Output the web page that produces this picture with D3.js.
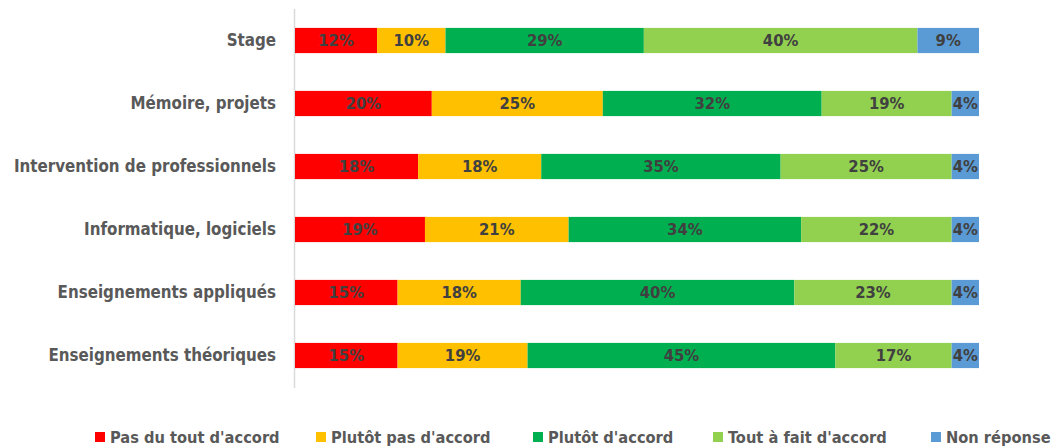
<!DOCTYPE html>
<html>
<head>
<meta charset="UTF-8">
<title>Stacked bars</title>
<script src="https://cdn.jsdelivr.net/npm/d3@7"></script>
<style>
  body { margin: 0; background: #fff; }
  text { font-family: "Liberation Sans Narrow", "DejaVu Sans Condensed", sans-serif; font-weight: bold; }
</style>
</head>
<body>
<script>
// categories (top to bottom)
var categories = ["Stage", "Mémoire, projets", "Intervention de professionnels",
  "Informatique, logiciels", "Enseignements appliqués", "Enseignements théoriques"];

var seriesNames = ["Pas du tout d'accord", "Plutôt pas d'accord", "Plutôt d'accord",
  "Tout à fait d'accord", "Non réponse"];
var colors = ["#ff0000", "#ffc000", "#00b050", "#92d050", "#5b9bd5"];

// percentages per series, in category order
var pasDuTout   = [12, 20, 18, 19, 15, 15];
var plutotPas   = [10, 25, 18, 21, 18, 19];
var plutot      = [29, 32, 35, 34, 40, 45];
var toutAFait   = [40, 19, 25, 22, 23, 17];
var nonReponse  = [9, 4, 4, 4, 4, 4];
var seriesValues = [pasDuTout, plutotPas, plutot, toutAFait, nonReponse];

var width = 1059, height = 447;

var svg = d3.select("body").append("svg")
  .attr("width", width)
  .attr("height", height);

var rows = categories.map(function(c, i) {
  var r = { cat: c };
  seriesNames.forEach(function(s, j) { r[s] = seriesValues[j][i]; });
  return r;
});

var stack = d3.stack().keys(seriesNames);
var layers = stack(rows);

var x = d3.scaleLinear().domain([0, 100]).range([295, 979]);
var y = d3.scaleBand().domain(categories).range([9, 387]).paddingInner(0.6).paddingOuter(0.3);

// vertical axis line
svg.append("line")
  .attr("x1", 294.5).attr("x2", 294.5)
  .attr("y1", 9).attr("y2", 388)
  .attr("stroke", "#d9d9d9")
  .attr("stroke-width", 1.5);

// category labels
svg.append("g").selectAll("text")
  .data(categories)
  .enter().append("text")
  .attr("x", 276)
  .attr("y", function(d) { return y(d) + y.bandwidth() / 2; })
  .attr("dy", "0.35em")
  .attr("text-anchor", "end")
  .attr("fill", "#595959")
  .style("font-size", "16.8px")
  .text(function(d) { return d; });

var g = svg.append("g").selectAll("g")
  .data(layers)
  .enter().append("g")
  .attr("fill", function(d, i) { return colors[i]; });

g.selectAll("rect")
  .data(function(d) { return d; })
  .enter().append("rect")
  .attr("x", function(d) { return x(d[0]); })
  .attr("y", function(d) { return y(d.data.cat); })
  .attr("width", function(d) { return x(d[1]) - x(d[0]); })
  .attr("height", y.bandwidth());

g.selectAll("text")
  .data(function(d) { return d; })
  .enter().append("text")
  .attr("x", function(d) { return (x(d[0]) + x(d[1])) / 2; })
  .attr("y", function(d) { return y(d.data.cat) + y.bandwidth() / 2; })
  .attr("dy", "0.35em")
  .attr("text-anchor", "middle")
  .attr("fill", "#404040")
  .style("font-size", "16.5px")
  .text(function(d) { return (d[1] - d[0]) + "%"; });

// legend
var legendX = [95, 316, 533, 713, 931];
var legend = svg.append("g").selectAll("g")
  .data(seriesNames)
  .enter().append("g")
  .attr("transform", function(d, i) { return "translate(" + legendX[i] + ",437)"; });

legend.append("rect")
  .attr("x", 0).attr("y", -5)
  .attr("width", 10).attr("height", 10)
  .attr("fill", function(d, i) { return colors[i]; });

legend.append("text")
  .attr("x", 15)
  .attr("dy", "0.35em")
  .attr("fill", "#595959")
  .style("font-size", "16.3px")
  .text(function(d) { return d; });
</script>
</body>
</html>
